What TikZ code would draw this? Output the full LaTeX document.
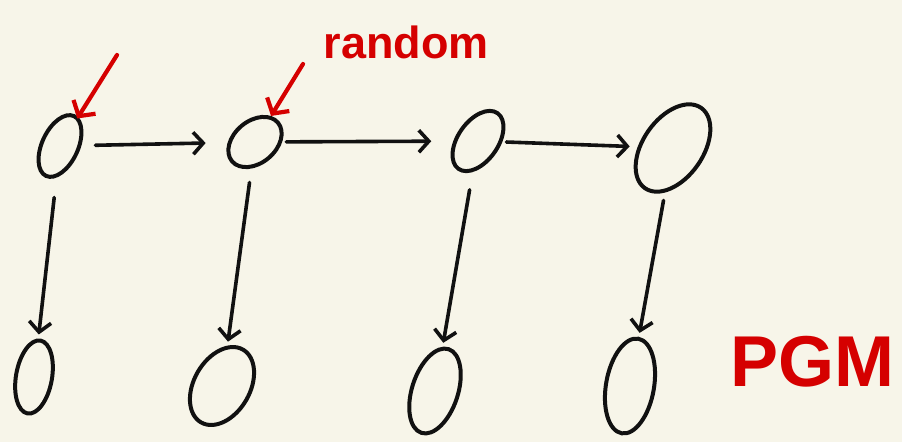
\documentclass[tikz,border=0pt]{standalone}
\usepackage{fontspec}
\setmainfont{Liberation Sans}
\usetikzlibrary{shapes.geometric,arrows.meta}
\definecolor{paper}{HTML}{F7F5E9}
\definecolor{ink}{HTML}{111111}
\definecolor{redink}{HTML}{D50000}
\begin{document}
\begin{tikzpicture}[x=1pt,y=-1pt,
  var/.style={draw=ink,line width=4pt,ellipse,inner sep=0pt},
  link/.style={draw=ink,line width=3.6pt,line cap=round,-{Straight Barb[length=10pt,width=22pt,line width=3.6pt]}},
  note/.style={draw=redink,line width=4.2pt,line cap=round,-{Straight Barb[length=11pt,width=26pt,line width=4.2pt]}},
  lab/.style={text=redink,inner sep=0pt}]
\fill[paper] (0,0) rectangle (902,442);
\useasboundingbox (0,0) rectangle (902,442);
% top chain
\node[var,minimum width=66pt,minimum height=36pt,rotate=65] (t1) at (60,146) {};
\node[var,minimum width=60pt,minimum height=42pt,rotate=40] (t2) at (255,142) {};
\node[var,minimum width=68pt,minimum height=40pt,rotate=55] (t3) at (478,141) {};
\node[var,minimum width=98pt,minimum height=60pt,rotate=55] (t4) at (673,148) {};
% bottom row
\node[var,minimum width=74pt,minimum height=36pt,rotate=80] (b1) at (34,377) {};
\node[var,minimum width=84pt,minimum height=56pt,rotate=60] (b2) at (222,386) {};
\node[var,minimum width=88pt,minimum height=46pt,rotate=72] (b3) at (435,391) {};
\node[var,minimum width=96pt,minimum height=48pt,rotate=80] (b4) at (630,386) {};
% horizontal links
\draw[link,shorten <=14pt,shorten >=22pt] (t1) -- (t2);
\draw[link,shorten <=4pt,shorten >=22pt] (t2) -- (t3);
\draw[link,shorten <=4pt,shorten >=8pt] (t3) -- (t4);
% vertical links
\draw[link,shorten <=20pt,shorten >=4pt] (t1) -- (b1);
\draw[link,shorten <=14pt,shorten >=4pt] (t2) -- (b2);
\draw[link,shorten <=18pt,shorten >=4pt] (t3) -- (b3);
\draw[link,shorten <=8pt,shorten >=4pt] (t4) -- (b4);
% red notes
\coordinate (r1) at (117,55);
\coordinate (r2) at (303,64);
\draw[note,shorten >=-2pt] (r1) -- (t1);
\draw[note,shorten >=0pt] (r2) -- (t2);
\node[lab,font=\bfseries\fontsize{45}{45}\selectfont] (random) at (406,42) {random};
\node[lab,font=\bfseries\fontsize{72}{72}\selectfont] (pgm) at (812,362) {PGM};
\end{tikzpicture}
\end{document}
